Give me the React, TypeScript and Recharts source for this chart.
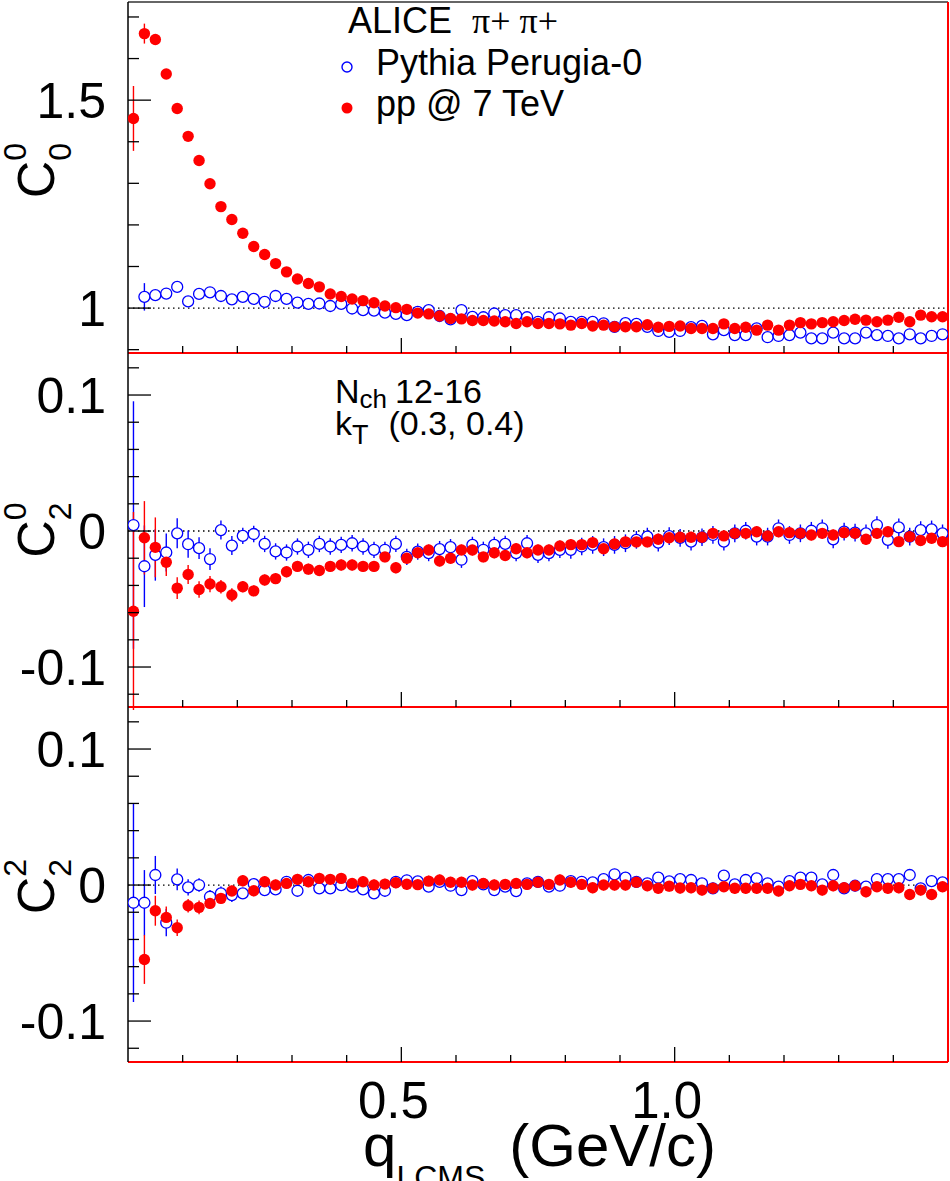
import React from "react";
import { ScatterChart, Scatter, XAxis, YAxis, ErrorBar, ReferenceLine, Legend } from "recharts";

const FONT = "'Liberation Sans', Arial, Helvetica, sans-serif";
const SERIF = "'Liberation Serif', 'Times New Roman', serif";
const BLUE = "#0000ff";
const RED = "#ff0000";
const PYTHIA = "Pythia Perugia-0";
const DATA = "pp @ 7 TeV";

// q_LCMS bin centres (GeV/c)
const qBins = [
  0.01, 0.03, 0.05, 0.07, 0.09, 0.11, 0.13, 0.15, 0.17, 0.19,
  0.21, 0.23, 0.25, 0.27, 0.29, 0.31, 0.33, 0.35, 0.37, 0.39,
  0.41, 0.43, 0.45, 0.47, 0.49, 0.51, 0.53, 0.55, 0.57, 0.59,
  0.61, 0.63, 0.65, 0.67, 0.69, 0.71, 0.73, 0.75, 0.77, 0.79,
  0.81, 0.83, 0.85, 0.87, 0.89, 0.91, 0.93, 0.95, 0.97, 0.99,
  1.01, 1.03, 1.05, 1.07, 1.09, 1.11, 1.13, 1.15, 1.17, 1.19,
  1.21, 1.23, 1.25, 1.27, 1.29, 1.31, 1.33, 1.35, 1.37, 1.39,
  1.41, 1.43, 1.45, 1.47, 1.49,
];

// C^0_0
const c00Pythia = [
  null, 1.027, 1.031, 1.035, 1.051, 1.016, 1.034, 1.038, 1.029, 1.021,
  1.027, 1.022, 1.015, 1.029, 1.022, 1.013, 1.010, 1.011, 1.005, 1.010,
  0.999, 0.995, 0.994, 0.989, 0.986, 0.983, 0.991, 0.995, 0.981, 0.973,
  0.995, 0.979, 0.978, 0.987, 0.983, 0.983, 0.978, 0.967, 0.978, 0.975,
  0.967, 0.967, 0.967, 0.963, 0.955, 0.964, 0.962, 0.955, 0.945, 0.943,
  0.945, 0.954, 0.957, 0.937, 0.947, 0.935, 0.935, 0.951, 0.930, 0.933,
  0.935, 0.941, 0.927, 0.927, 0.941, 0.927, 0.927, 0.941, 0.935, 0.933,
  0.927, 0.937, 0.927, 0.933, 0.937,
];
const c00PythiaErr = [
  0, 0.033, 0.012, 0.008, 0.006, 0.005, 0.005, 0.004, 0.004, 0.004,
  0.003, 0.003, 0.003, 0.003, 0.003, 0.003, 0.003, 0.003, 0.003, 0.003,
  0.003, 0.003, 0.003, 0.003, 0.003, 0.003, 0.003, 0.003, 0.003, 0.003,
  0.003, 0.003, 0.003, 0.003, 0.003, 0.003, 0.003, 0.003, 0.003, 0.003,
  0.003, 0.003, 0.003, 0.003, 0.003, 0.003, 0.003, 0.003, 0.003, 0.003,
  0.003, 0.003, 0.003, 0.003, 0.003, 0.003, 0.003, 0.003, 0.003, 0.003,
  0.003, 0.003, 0.003, 0.003, 0.003, 0.003, 0.003, 0.003, 0.003, 0.003,
  0.003, 0.003, 0.003, 0.003, 0.003,
];
const c00Data = [
  1.456, 1.660, 1.646, 1.563, 1.480, 1.413, 1.355, 1.299, 1.244, 1.213,
  1.180, 1.148, 1.129, 1.107, 1.087, 1.070, 1.059, 1.051, 1.034, 1.028,
  1.022, 1.018, 1.013, 1.005, 1.001, 0.997, 0.988, 0.986, 0.981, 0.975,
  0.974, 0.970, 0.970, 0.969, 0.967, 0.963, 0.967, 0.963, 0.963, 0.962,
  0.959, 0.963, 0.957, 0.959, 0.955, 0.955, 0.955, 0.960, 0.954, 0.956,
  0.957, 0.951, 0.951, 0.951, 0.962, 0.951, 0.954, 0.947, 0.959, 0.947,
  0.959, 0.965, 0.962, 0.965, 0.967, 0.970, 0.973, 0.971, 0.967, 0.971,
  0.978, 0.967, 0.983, 0.979, 0.979,
];
const c00DataErr = [
  0.078, 0.024, 0.012, 0.008, 0.006, 0.005, 0.005, 0.004, 0.004, 0.004,
  0.003, 0.003, 0.003, 0.003, 0.003, 0.003, 0.003, 0.003, 0.003, 0.003,
  0.003, 0.003, 0.003, 0.003, 0.003, 0.003, 0.003, 0.003, 0.003, 0.003,
  0.003, 0.003, 0.003, 0.003, 0.003, 0.003, 0.003, 0.003, 0.003, 0.003,
  0.003, 0.003, 0.003, 0.003, 0.003, 0.003, 0.003, 0.003, 0.003, 0.003,
  0.003, 0.003, 0.003, 0.003, 0.003, 0.003, 0.003, 0.003, 0.003, 0.003,
  0.003, 0.003, 0.003, 0.003, 0.003, 0.003, 0.003, 0.003, 0.003, 0.003,
  0.003, 0.003, 0.003, 0.003, 0.003,
];

// C^0_2
const c02Pythia = [
  0.0044, -0.0259, -0.0175, -0.0158, -0.0017, -0.0097, -0.0126, -0.0206, 0.0007, -0.0107,
  -0.0036, -0.0022, -0.0095, -0.0150, -0.0158, -0.0114, -0.0138, -0.0095, -0.0114, -0.0102,
  -0.0090, -0.0114, -0.0138, -0.0138, -0.0095, -0.0190, -0.0151, -0.0162, -0.0133, -0.0119,
  -0.0211, -0.0102, -0.0138, -0.0102, -0.0095, -0.0162, -0.0090, -0.0175, -0.0162, -0.0138,
  -0.0138, -0.0114, -0.0102, -0.0119, -0.0102, -0.0090, -0.0065, -0.0041, -0.0085, -0.0038,
  -0.0050, -0.0078, -0.0046, -0.0029, -0.0078, -0.0017, 0.0002, -0.0041, -0.0041, 0.0020,
  -0.0029, -0.0017, 0.0002, 0.0020, -0.0061, -0.0005, -0.0012, -0.0017, 0.0044, -0.0065,
  0.0027, -0.0041, 0.0007, 0.0012, -0.0017,
];
const c02PythiaErr = [
  0.091, 0.030, 0.019, 0.014, 0.011, 0.010, 0.008, 0.008, 0.007, 0.007,
  0.006, 0.006, 0.006, 0.006, 0.006, 0.006, 0.006, 0.006, 0.006, 0.006,
  0.006, 0.006, 0.006, 0.006, 0.006, 0.006, 0.006, 0.006, 0.006, 0.006,
  0.006, 0.006, 0.006, 0.006, 0.006, 0.006, 0.006, 0.006, 0.006, 0.006,
  0.0065, 0.0065, 0.0065, 0.0065, 0.0065, 0.0065, 0.0065, 0.0065, 0.0065, 0.0065,
  0.0065, 0.0065, 0.0065, 0.0065, 0.0065, 0.0065, 0.0065, 0.0065, 0.0065, 0.0065,
  0.0065, 0.0065, 0.0065, 0.0065, 0.0065, 0.0065, 0.0065, 0.0065, 0.0065, 0.0065,
  0.0065, 0.0065, 0.0065, 0.0065, 0.0065,
];
const c02Data = [
  -0.059, -0.005, -0.012, -0.023, -0.042, -0.032, -0.043, -0.039, -0.041, -0.047,
  -0.041, -0.044, -0.036, -0.035, -0.030, -0.026, -0.028, -0.029, -0.026, -0.025,
  -0.025, -0.026, -0.026, -0.019, -0.027, -0.020, -0.016, -0.014, -0.022, -0.020,
  -0.014, -0.014, -0.019, -0.016, -0.018, -0.013, -0.016, -0.014, -0.014, -0.011,
  -0.010, -0.010, -0.0085, -0.013, -0.0095, -0.008, -0.008, -0.008, -0.006, -0.005,
  -0.0046, -0.0046, -0.0046, -0.0017, -0.0036, -0.0017, -0.0017, -0.0005, -0.0036, -0.0005,
  -0.0012, -0.0017, -0.0029, -0.0017, -0.0029, -0.0012, -0.0017, -0.0061, -0.0017, -0.0005,
  -0.0078, -0.0041, -0.0070, -0.0053, -0.0078,
];
const c02DataErr = [
  0.073, 0.027, 0.022, 0.010, 0.008, 0.007, 0.006, 0.006, 0.005, 0.005,
  0.004, 0.004, 0.004, 0.004, 0.004, 0.004, 0.004, 0.004, 0.004, 0.004,
  0.004, 0.004, 0.004, 0.004, 0.004, 0.004, 0.004, 0.004, 0.004, 0.004,
  0.004, 0.004, 0.004, 0.004, 0.004, 0.004, 0.004, 0.004, 0.004, 0.004,
  0.004, 0.004, 0.004, 0.004, 0.004, 0.004, 0.004, 0.004, 0.004, 0.004,
  0.004, 0.004, 0.004, 0.004, 0.004, 0.004, 0.004, 0.004, 0.004, 0.004,
  0.004, 0.004, 0.004, 0.004, 0.004, 0.004, 0.004, 0.004, 0.004, 0.004,
  0.004, 0.004, 0.004, 0.004, 0.004,
];

// C^2_2
const c22Pythia = [
  -0.0130, -0.0130, 0.0074, -0.0277, 0.0042, -0.0017, 0.0000, -0.0086, -0.0061, -0.0074,
  -0.0061, 0.0007, -0.0037, -0.0032, 0.0024, -0.0042, 0.0037, -0.0024, -0.0024, 0.0000,
  -0.0012, -0.0032, -0.0061, -0.0042, 0.0024, 0.0035, 0.0027, -0.0012, 0.0024, -0.0005,
  -0.0037, 0.0029, 0.0005, -0.0037, -0.0012, -0.0044, 0.0012, 0.0024, -0.0012, -0.0005,
  0.0029, 0.0024, 0.0020, 0.0044, 0.0079, 0.0054, 0.0024, 0.0012, 0.0054, 0.0027,
  0.0044, 0.0037, 0.0012, -0.0024, 0.0069, 0.0005, 0.0037, 0.0049, 0.0012, -0.0012,
  0.0029, 0.0054, 0.0054, 0.0005, 0.0074, -0.0024, -0.0005, -0.0012, 0.0044, 0.0044,
  0.0044, 0.0074, -0.0024, 0.0029, 0.0020,
];
const c22PythiaErr = [
  0.073, 0.024, 0.014, 0.010, 0.008, 0.006, 0.005, 0.005, 0.005, 0.005,
  0.004, 0.004, 0.004, 0.004, 0.004, 0.004, 0.004, 0.004, 0.004, 0.004,
  0.004, 0.004, 0.004, 0.004, 0.004, 0.004, 0.004, 0.004, 0.004, 0.004,
  0.004, 0.004, 0.004, 0.004, 0.004, 0.004, 0.004, 0.004, 0.004, 0.004,
  0.004, 0.004, 0.004, 0.004, 0.004, 0.004, 0.004, 0.004, 0.004, 0.004,
  0.004, 0.004, 0.004, 0.004, 0.004, 0.004, 0.004, 0.004, 0.004, 0.004,
  0.004, 0.004, 0.004, 0.004, 0.004, 0.004, 0.004, 0.004, 0.004, 0.004,
  0.004, 0.004, 0.004, 0.004, 0.004,
];
const c22Data = [
  null, -0.0547, -0.0189, -0.0238, -0.0314, -0.0152, -0.0164, -0.0135, -0.0098, -0.0044,
  0.0032, -0.0042, 0.0024, 0.0000, 0.0012, 0.0042, 0.0024, 0.0049, 0.0042, 0.0049,
  0.0012, 0.0024, 0.0000, 0.0007, 0.0017, 0.0006, 0.0003, 0.0029, 0.0037, 0.0020,
  0.0020, 0.0000, 0.0012, 0.0000, 0.0005, 0.0012, 0.0005, 0.0020, 0.0005, 0.0037,
  0.0020, 0.0005, -0.0020, 0.0000, 0.0000, 0.0000, 0.0020, -0.0005, -0.0024, -0.0008,
  -0.0022, -0.0020, -0.0037, -0.0024, -0.0012, -0.0024, -0.0024, -0.0024, -0.0024, -0.0044,
  -0.0005, 0.0005, -0.0005, -0.0037, -0.0005, -0.0020, -0.0005, -0.0049, -0.0012, -0.0024,
  -0.0020, -0.0069, -0.0037, -0.0069, -0.0012,
];
const c22DataErr = [
  0, 0.018, 0.011, 0.008, 0.006, 0.005, 0.005, 0.004, 0.004, 0.004,
  0.004, 0.004, 0.004, 0.004, 0.004, 0.004, 0.004, 0.004, 0.004, 0.004,
  0.004, 0.004, 0.004, 0.004, 0.004, 0.004, 0.004, 0.004, 0.004, 0.004,
  0.004, 0.004, 0.004, 0.004, 0.004, 0.004, 0.004, 0.004, 0.004, 0.004,
  0.004, 0.004, 0.004, 0.004, 0.004, 0.004, 0.004, 0.004, 0.004, 0.004,
  0.004, 0.004, 0.004, 0.004, 0.004, 0.004, 0.004, 0.004, 0.004, 0.004,
  0.004, 0.004, 0.004, 0.004, 0.004, 0.004, 0.004, 0.004, 0.004, 0.004,
  0.004, 0.004, 0.004, 0.004, 0.004,
];

const xTicks = [0.1, 0.2, 0.3, 0.4, 0.5, 0.6, 0.7, 0.8, 0.9, 1.0, 1.1, 1.2, 1.3, 1.4];
const xLabels: Record<string, string> = { "0.5": "0.5", "1": "1.0" };
const c00Ticks = [0.9, 1.0, 1.1, 1.2, 1.3, 1.4, 1.5, 1.6, 1.7];
const c00Labels: Record<string, string> = { "1": "1", "1.5": "1.5" };
const c2Ticks = [-0.12, -0.1, -0.08, -0.06, -0.04, -0.02, 0, 0.02, 0.04, 0.06, 0.08, 0.1, 0.12];
const c2Labels: Record<string, string> = { "-0.1": "-0.1", "0": "0", "0.1": "0.1" };

function points(vals: (number | null)[], errs: number[]) {
  const out: { q: number; v: number; e: number }[] = [];
  qBins.forEach((q, i) => {
    const v = vals[i];
    if (v !== null && v !== undefined) out.push({ q, v, e: errs[i] });
  });
  return out;
}

const OpenMarker = (p: any) =>
  p.cx == null ? null : <circle cx={p.cx} cy={p.cy} r={5.5} fill="#fff" stroke={BLUE} strokeWidth={1.3} />;
const FullMarker = (p: any) =>
  p.cx == null ? null : <circle cx={p.cx} cy={p.cy} r={5.7} fill={RED} />;

const yTick = (labels: Record<string, string>) => (p: any) => {
  const label = labels[String(p.payload.value)];
  return (
    <g>
      <line x1={p.x} x2={p.x + (label ? 23 : 11)} y1={p.y} y2={p.y} stroke="#000" strokeWidth={1.3} />
      {label && (
        <text x={p.x - 22} y={p.y} dy="0.36em" textAnchor="end" fontSize={50} fontFamily={FONT} fill="#000">
          {label}
        </text>
      )}
    </g>
  );
};

const xTick = (showLabels: boolean) => (p: any) => {
  const label = xLabels[String(p.payload.value)];
  return (
    <g>
      <line x1={p.x} x2={p.x} y1={p.y} y2={p.y - (label ? 15 : 7)} stroke="#000" strokeWidth={1.3} />
      {showLabels && label && (
        <text x={p.x - 8} y={p.y + 56} textAnchor="middle" fontSize={51} fontFamily={FONT} fill="#000">
          {label}
        </text>
      )}
    </g>
  );
};

const yTitle = (sup: string, sub: string, shift: number) => (p: any) => {
  const vb = p.viewBox || { y: 0, height: 354 };
  const cy = vb.y + vb.height / 2 + shift;
  return (
    <text transform={`translate(54, ${cy}) rotate(-90)`} textAnchor="middle" fontFamily={FONT} fill="#000">
      <tspan fontSize={52}>C</tspan>
      <tspan fontSize={32} dy={-28}>{sup}</tspan>
      <tspan fontSize={32} dx={-17.8} dy={45}>{sub}</tspan>
    </text>
  );
};

const xTitle = () => (
  <text x={363} y={459} fontFamily={FONT} fontSize={60} fill="#000">
    q
    <tspan fontSize={32} dy={22}>LCMS</tspan>
    <tspan dx={24} dy={-22}>(GeV/c)</tspan>
  </text>
);

const renderLegend = (props: any) => {
  const order = [PYTHIA, DATA];
  const items = [...(props.payload || [])].sort(
    (a: any, b: any) => order.indexOf(a.value) - order.indexOf(b.value)
  );
  return (
    <svg width={420} height={130} style={{ display: "block" }}>
      <text x={20} y={33} fontSize={36} fontFamily={FONT} fill="#000">
        ALICE
        <tspan dx={20} fontFamily={SERIF}>π+ π+</tspan>
      </text>
      {items.map((it: any, i: number) => (
        <g key={it.value}>
          {it.value === PYTHIA ? (
            <circle cx={19} cy={67 + 41 * i} r={5} fill="none" stroke={BLUE} strokeWidth={1.4} />
          ) : (
            <circle cx={19} cy={67 + 41 * i} r={5.5} fill={RED} />
          )}
          <text x={48} y={75 + 41 * i} fontSize={36} fontFamily={FONT} fill="#000">
            {it.value}
          </text>
        </g>
      ))}
    </svg>
  );
};

type PanelProps = {
  top: number;
  height: number;
  margin: { top: number; right: number; bottom: number; left: number };
  xHeight: number;
  showX: boolean;
  domain: [number, number];
  ticks: number[];
  labels: Record<string, string>;
  refY: number;
  title: (p: any) => React.ReactNode;
  pythia: (number | null)[];
  pythiaErr: number[];
  data: (number | null)[];
  dataErr: number[];
  frameTop?: boolean;
  children?: React.ReactNode;
};

function Panel(pp: PanelProps) {
  return (
    <div style={{ position: "absolute", left: 0, top: pp.top, width: 950, height: pp.height }}>
      <ScatterChart width={950} height={pp.height} margin={pp.margin}>
        <XAxis
          dataKey="q"
          type="number"
          domain={[0, 1.5]}
          ticks={xTicks}
          interval={0}
          allowDataOverflow
          height={pp.xHeight}
          tickSize={0}
          tickMargin={0}
          tickLine={false}
          axisLine={{ stroke: RED, strokeWidth: 2 }}
          tick={xTick(pp.showX)}
          label={pp.showX ? xTitle : undefined}
        />
        <YAxis
          dataKey="v"
          type="number"
          domain={pp.domain}
          ticks={pp.ticks}
          interval={0}
          allowDataOverflow
          width={128}
          tickSize={0}
          tickMargin={0}
          tickLine={false}
          axisLine={{ stroke: "#000", strokeWidth: 1.5 }}
          tick={yTick(pp.labels)}
          label={pp.title}
        />
        <ReferenceLine y={pp.refY} stroke="#000" strokeWidth={1.3} strokeDasharray="1.5 3.5" />
        {pp.frameTop && <ReferenceLine y={pp.domain[1]} stroke="#333" strokeWidth={1.5} />}
        <ReferenceLine x={1.5} stroke={RED} strokeWidth={2} />
        <Scatter name={PYTHIA} data={points(pp.pythia, pp.pythiaErr)} fill={BLUE} shape={OpenMarker} isAnimationActive={false}>
          <ErrorBar dataKey="e" direction="y" width={0} stroke={BLUE} strokeWidth={1.4} isAnimationActive={false} />
        </Scatter>
        <Scatter name={DATA} data={points(pp.data, pp.dataErr)} fill={RED} shape={FullMarker} isAnimationActive={false}>
          <ErrorBar dataKey="e" direction="y" width={0} stroke={RED} strokeWidth={1.4} isAnimationActive={false} />
        </Scatter>
        {pp.children}
      </ScatterChart>
    </div>
  );
}

export default function App() {
  return (
    <div
      style={{
        position: "absolute",
        left: 0,
        top: 0,
        width: 950,
        height: 1181,
        background: "#fff",
        overflow: "hidden",
        fontFamily: FONT,
      }}
    >
      <Panel
        top={0}
        height={356}
        margin={{ top: 2, right: 2, bottom: 2, left: 0 }}
        xHeight={1}
        showX={false}
        domain={[0.892, 1.736]}
        ticks={c00Ticks}
        labels={c00Labels}
        refY={1}
        title={yTitle("0", "0", -7)}
        pythia={c00Pythia}
        pythiaErr={c00PythiaErr}
        data={c00Data}
        dataErr={c00DataErr}
        frameTop
      >
        <Legend
          content={renderLegend}
          layout="horizontal"
          verticalAlign="middle"
          align="center"
          wrapperStyle={{ left: 328, top: 0, width: 420, height: 130 }}
        />
      </Panel>
      <Panel
        top={353}
        height={357}
        margin={{ top: 0, right: 2, bottom: 2, left: 0 }}
        xHeight={1}
        showX={false}
        domain={[-0.1294, 0.1309]}
        ticks={c2Ticks}
        labels={c2Labels}
        refY={0}
        title={yTitle("0", "2", 0)}
        pythia={c02Pythia}
        pythiaErr={c02PythiaErr}
        data={c02Data}
        dataErr={c02DataErr}
      >
        <text x={335} y={50} fontSize={34} fontFamily={FONT} fill="#000">
          N<tspan fontSize={26} dy={5}>ch</tspan>
          <tspan dx={8} dy={-5}>12-16</tspan>
        </text>
        <text x={335} y={82} fontSize={34} fontFamily={FONT} fill="#000">
          k<tspan fontSize={27} dy={9}>T</tspan>
          <tspan dx={20} dy={-9}>(0.3, 0.4)</tspan>
        </text>
      </Panel>
      <Panel
        top={707}
        height={474}
        margin={{ top: 0, right: 2, bottom: 0, left: 0 }}
        xHeight={119}
        showX
        domain={[-0.1301, 0.1309]}
        ticks={c2Ticks}
        labels={c2Labels}
        refY={0}
        title={yTitle("2", "2", 2)}
        pythia={c22Pythia}
        pythiaErr={c22PythiaErr}
        data={c22Data}
        dataErr={c22DataErr}
      />
    </div>
  );
}
